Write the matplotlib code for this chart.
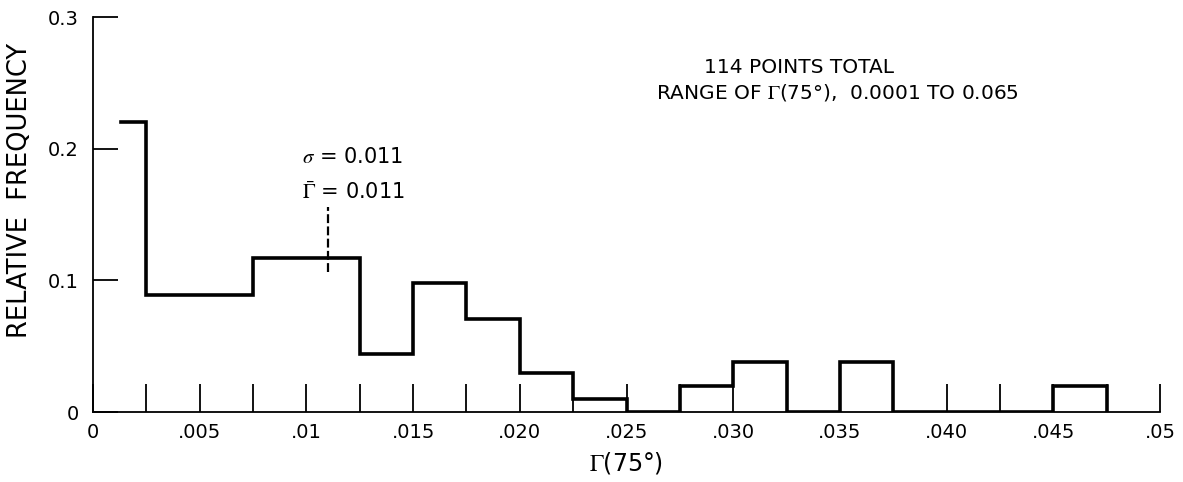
import numpy as np
import matplotlib.pyplot as plt

plt.rcParams['font.family'] = ['DejaVu Sans']
plt.rcParams['mathtext.fontset'] = 'stix'

# histogram of Gamma(75 deg): bin edges and relative frequencies
bin_edges = [0.0013, 0.0025, 0.005, 0.0075, 0.01, 0.0125, 0.015, 0.0175, 0.02,
             0.0225, 0.025, 0.0275, 0.03, 0.0325, 0.035, 0.0375, 0.04, 0.0425,
             0.045, 0.0475]
rel_freq = [0.22, 0.089, 0.089, 0.117, 0.117, 0.044, 0.098, 0.071, 0.030,
            0.010, 0.0, 0.020, 0.038, 0.0, 0.038, 0.0, 0.0, 0.0, 0.020]

gamma_mean = 0.011
sigma = 0.011
n_points = 114

x_ticks = [0, 0.005, 0.01, 0.015, 0.02, 0.025, 0.03, 0.035, 0.04, 0.045, 0.05]
x_ticklabels = ['0', '.005', '.01', '.015', '.020', '.025', '.030', '.035',
                '.040', '.045', '.05']
y_ticks = [0, 0.1, 0.2, 0.3]
y_ticklabels = ['0', '0.1', '0.2', '0.3']

fig = plt.figure(figsize=(11.83, 4.82), dpi=100)
ax = fig.add_axes([0.0786, 0.1452, 0.902, 0.8195])

# outline of the histogram, dropping to zero after the last bin
ax.step(bin_edges, rel_freq + [0.0], where='post', color='black', lw=2.6,
        solid_joinstyle='miter', zorder=3)

# mean marker
ax.vlines(gamma_mean, 0.106, 0.156, colors='black', lw=1.6,
          linestyles=(0, (4, 1.5)))
ax.text(0.0098, 0.194, rf'$\sigma$ = {sigma}', fontsize=15, va='center', ha='left')
ax.text(0.0098, 0.167, rf'$\bar{{\Gamma}}$ = {gamma_mean}', fontsize=15,
        va='center', ha='left')

ax.text(0.0331, 0.2616, f'{n_points} POINTS TOTAL', fontsize=14.5,
        ha='center', va='center')
ax.text(0.0349, 0.2426, r'RANGE OF $\Gamma$(75°),  0.0001 TO 0.065', fontsize=14.5,
        ha='center', va='center')

ax.set_xlim(0, 0.05)
ax.set_ylim(0, 0.3)
for side in ['top', 'right']:
    ax.spines[side].set_visible(False)
ax.spines['left'].set_linewidth(1.3)
ax.spines['bottom'].set_linewidth(1.3)

ax.set_xticks(x_ticks)
ax.set_xticklabels(x_ticklabels)
ax.set_xticks(np.arange(0.0025, 0.05, 0.005), minor=True)
ax.set_yticks(y_ticks)
ax.set_yticklabels(y_ticklabels)
ax.tick_params(axis='x', which='both', direction='in', length=20, width=1.3,
               labelsize=14, pad=8)
ax.tick_params(axis='y', direction='in', length=18, width=1.3,
               labelsize=14, pad=10)

ax.set_xlabel(r'$\Gamma$(75°)', fontsize=17)
ax.xaxis.set_label_coords(0.5, -0.095)
ax.set_ylabel('RELATIVE  FREQUENCY', fontsize=18.5)
ax.yaxis.set_label_coords(-0.056, 0.56)

fig.savefig('out.png', dpi=100)
